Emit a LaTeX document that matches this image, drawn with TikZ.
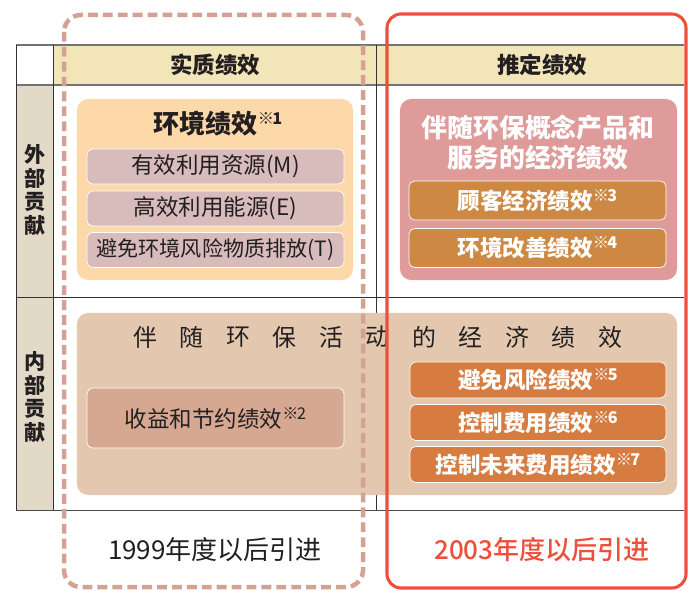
\documentclass[tikz,border=0pt]{standalone}
\usepackage{fontspec}
\setmainfont{Noto Sans CJK SC}
\newfontfamily\medfont{Noto Sans CJK SC Medium}

\definecolor{headfill}{HTML}{F2E6B9}
\definecolor{sidefill}{HTML}{E2DAC7}
\definecolor{envfill}{HTML}{FDD9A9}
\definecolor{envsub}{HTML}{D8BBBB}
\definecolor{prodfill}{HTML}{DF9A9A}
\definecolor{prodsub}{HTML}{CD8943}
\definecolor{actfill}{HTML}{E3C8AF}
\definecolor{savesub}{HTML}{D6A891}
\definecolor{actsub}{HTML}{D77C40}
\definecolor{redline}{HTML}{EE4F3A}
\definecolor{dashline}{HTML}{D3A294}
\definecolor{textdark}{HTML}{231F20}

\newcommand\fsz[2]{\fontsize{#1}{#2}\selectfont}
\newcommand\kome[1]{\raisebox{0.36em}{\fsz{11.5}{11.5}\selectfont ※\kern-0.1em#1}}

\tikzset{
	bigbox/.style={rounded corners=8pt,inner sep=0pt},
	subbox/.style={draw=white,line width=0.5pt,rounded corners=4pt,inner sep=0pt,minimum width=6.425cm},
	whitetext/.style={text=white,font=\bfseries\fsz{16}{19}},
	darktext/.style={text=textdark,font=\fsz{16}{19}},
}

\begin{document}
\begin{tikzpicture}[x=0.025cm,y=-0.025cm]
	
	\useasboundingbox (0,0) rectangle (690,591);
	
	\fill[headfill] (53,45) rectangle (684,85);
	\fill[sidefill] (16,85) rectangle (53,510);
	\draw[black!55,line width=0.9pt] (16,45) -- (684,45);
	\draw[black!55,line width=0.9pt] (16,85) -- (684,85);
	\draw[black!80,line width=0.7pt] (16,297) -- (684,297);
	\draw[black!70,line width=0.7pt] (16,510) -- (684,510);
	\draw[black!80,line width=0.7pt] (16,45) -- (16,510);
	\draw[black!80,line width=0.7pt] (53,45) -- (53,510);
	\draw[black!80,line width=0.7pt] (376,45) -- (376,510);
	
	\node[text=textdark,font=\bfseries\fsz{16}{19}] (real) at (215,65) {实质绩效};
	\node[text=textdark,font=\bfseries\fsz{16}{19}] (est) at (542,65) {推定绩效};
	\node[text=textdark,font=\bfseries\fsz{15}{16.7},align=center] (outer) at (35,190) {外\\部\\贡\\献};
	\node[text=textdark,font=\bfseries\fsz{15}{16.7},align=center] (inner) at (35,397) {内\\部\\贡\\献};
	
	\node[bigbox,fill=envfill,minimum width=6.9cm,minimum height=4.525cm] (env) at (215,189.5) {};
	\node[text=textdark,font=\bfseries\fsz{18.5}{22}] (envtitle) at (218,124) {环境绩效\kome{1}};
	\node[subbox,fill=envsub,minimum height=0.875cm,darktext] (envM) at (215.5,166.5) {有效利用资源(M)};
	\node[subbox,fill=envsub,minimum height=0.875cm,darktext] (envE) at (215.5,208.5) {高效利用能源(E)};
	\node[subbox,fill=envsub,minimum height=0.875cm,darktext,font=\fsz{15}{18}] (envT) at (215.5,250) {避免环境风险物质排放(T)};
	
	\node[bigbox,fill=prodfill,minimum width=6.925cm,minimum height=4.525cm] (prod) at (538.5,189.5) {};
	\node[text=white,font=\bfseries\fsz{18.4}{21},align=center] (prodtitle) at (538,142.5) {伴随环保概念产品和\\服务的经济绩效};
	\node[subbox,fill=prodsub,minimum height=0.975cm,whitetext] (cust) at (537.5,200.5) {顾客经济绩效\kome{3}};
	\node[subbox,fill=prodsub,minimum height=0.975cm,whitetext] (envimp) at (537.5,248) {环境改善绩效\kome{4}};
	
	\node[bigbox,fill=actfill,minimum width=15cm,minimum height=4.55cm] (act) at (377,404) {};
	\foreach \ch [count=\i from 0] in {伴,随,环,保,活,动,的,经,济,绩,效}
		\node[text=textdark,font=\fsz{17}{20}] (acttitle\i) at (145+46.5*\i,337) {\ch};
	\node[subbox,fill=savesub,minimum height=1.5cm,darktext] (save) at (215.5,418) {收益和节约绩效\kome{2}};
	\node[subbox,fill=actsub,minimum width=6.4cm,minimum height=0.9cm,whitetext] (risk) at (538,380) {避免风险绩效\kome{5}};
	\node[subbox,fill=actsub,minimum width=6.4cm,minimum height=0.9cm,whitetext] (cost) at (538,422.5) {控制费用绩效\kome{6}};
	\node[subbox,fill=actsub,minimum width=6.4cm,minimum height=0.9cm,whitetext] (future) at (538,464.5) {控制未来费用绩效\kome{7}};
	
	\draw[dashline,line width=3.2pt,dash pattern=on 7pt off 3.6pt,rounded corners=12pt] (64,15) rectangle (363,587);
	\draw[redline,line width=2.2pt,rounded corners=10pt] (387,14) rectangle (686,588);
	
	\node[text=textdark,font=\fsz{18.5}{22}] (y1999) at (215,550) {1999年度以后引进};
	\node[text=redline,font=\medfont\fsz{18.5}{22}] (y2003) at (542,550) {2003年度以后引进};
	
\end{tikzpicture}
\end{document}
